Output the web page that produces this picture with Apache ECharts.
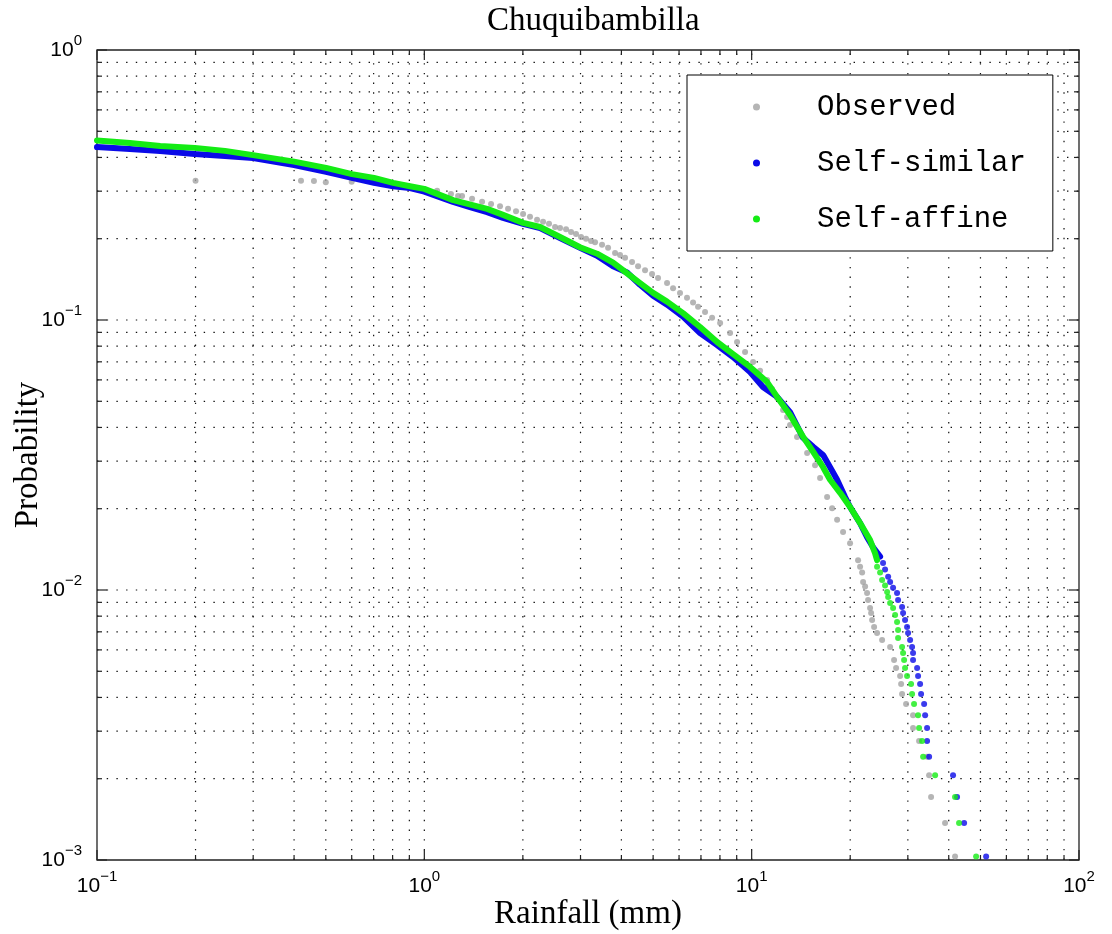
<!DOCTYPE html>
<html><head><meta charset="utf-8">
<script src="https://cdn.jsdelivr.net/npm/echarts@6/dist/echarts.min.js"></script>
<style>html,body{margin:0;padding:0;background:#fff}#c{width:1112px;height:934px}</style>
</head><body><div id="c"></div>
<script>
const titleText = 'Chuquibambilla';
const xAxisName = 'Rainfall (mm)';
const yAxisName = 'Probability';
const seriesNames = ['Observed', 'Self-similar', 'Self-affine'];
const seriesColors = ['#a2a2a2', '#0a0ae8', '#14ec14'];

const xTickValues = [0.1, 1, 10, 100];
const xTickExps = ['\u22121', '0', '1', '2'];
const yTickValues = [0.001, 0.01, 0.1, 1];
const yTickExps = ['\u22123', '\u22122', '\u22121', '0'];
const xMinorTicks = [0.2,0.3,0.4,0.5,0.6,0.7,0.8,0.9, 2,3,4,5,6,7,8,9, 20,30,40,50,60,70,80,90];
const yMinorTicks = [0.002,0.003,0.004,0.005,0.006,0.007,0.008,0.009, 0.02,0.03,0.04,0.05,0.06,0.07,0.08,0.09, 0.2,0.3,0.4,0.5,0.6,0.7,0.8,0.9];

// Observed (rainfall mm, exceedance probability)
const observed = [
[0.2,0.328],[0.42,0.328],[0.46,0.327],[0.5,0.324],[0.6,0.325],[0.7,0.324],[0.8,0.316],
[1.094,0.301],[1.206,0.293],[1.268,0.288],[1.304,0.288],[1.399,0.281],[1.501,0.274],[1.599,0.269],[1.703,0.264],[1.802,0.258],[1.906,0.253],[2.003,0.247],[2.103,0.241],[2.21,0.235],[2.305,0.231],[2.404,0.227],[2.508,0.221],[2.598,0.219],[2.71,0.217],[2.807,0.212],[2.907,0.208],[3.011,0.203],[3.119,0.2],[3.231,0.196],[3.323,0.194],[3.491,0.19],[3.642,0.185],[3.825,0.177],[3.962,0.174],[4.104,0.17],[4.311,0.164],[4.497,0.158],[4.724,0.153],[4.962,0.148],[5.176,0.143],[5.514,0.137],[5.753,0.131],[6.041,0.126],[6.346,0.121],[6.622,0.116],[6.858,0.112],[7.204,0.107],[7.57,0.102],[8.01,0.0975],[8.59,0.0895],[9.024,0.0829],[9.546,0.0761],[10.1,0.0699],[10.61,0.0648],[11.15,0.06],[11.54,0.0555],[11.96,0.0514],[12.47,0.0464],[12.83,0.0437],[13.1,0.0408],[13.76,0.0369],[14.77,0.0322],[15.62,0.029],[16.18,0.026],[17.0,0.0221],[17.61,0.0201],[18.24,0.0182],[19.02,0.0164],[19.98,0.0149],
[21.14,0.0129],[21.44,0.0122],[21.75,0.0116],[21.9,0.0107],[22.21,0.0103],[22.52,0.00975],[22.68,0.00918],[23.0,0.00858],[23.17,0.00822],[23.33,0.00774],[23.66,0.00729],[24.16,0.00693],[25.03,0.00653],[26.48,0.00615],
[27.23,0.0055],[27.62,0.00514],[28.41,0.0048],[28.61,0.00449],[28.81,0.00412],[29.63,0.00378],[31.12,0.00344],[31.12,0.00308],[32.47,0.00276],[34.35,0.00241],[34.84,0.00206],[35.33,0.00171],[38.98,0.00137],[41.81,0.00103]
];

// Self-similar: continuous (dense) part and separated tail points
const selfSimilarDense = [
[0.1,0.437],[0.126,0.43],[0.156,0.423],[0.199,0.412],[0.246,0.405],[0.3,0.398],[0.4,0.375],[0.501,0.354],[0.601,0.336],[0.702,0.322],[0.803,0.313],[0.904,0.308],[1.0,0.299],[1.224,0.274],[1.379,0.262],[1.555,0.251],[1.74,0.239],[2.003,0.227],[2.257,0.219],[2.598,0.201],[2.99,0.185],[3.37,0.173],[3.772,0.158],[4.162,0.15],[4.56,0.135],[4.998,0.123],[5.514,0.114],[6.17,0.103],[6.956,0.0895],[7.842,0.0808],[8.774,0.0729],[9.888,0.0642],[10.83,0.0565],[11.96,0.0519],[13.1,0.0456],[14.36,0.0366],[15.41,0.0339],[16.53,0.0316],[17.36,0.0285],[18.24,0.0256],[19.29,0.0221],[19.98,0.0203],[21.44,0.0177],[22.52,0.0157],[23.49,0.0144],[24.68,0.0133]
];
const selfSimilarTail = [
[25.2,0.0126],[25.56,0.0119],[26.12,0.0112],[26.48,0.0107],[27.04,0.0102],[27.81,0.00975],[28.01,0.00918],[28.81,0.00865],[29.01,0.00822],[29.42,0.00774],[29.84,0.00729],[30.05,0.00693],[30.48,0.00653],[30.91,0.00615],[31.12,0.00584],[31.12,0.0055],[32.02,0.00514],[32.24,0.0048],[32.7,0.00449],[32.93,0.00412],[33.64,0.00378],[33.88,0.00344],[34.35,0.00308],[34.35,0.00276],[34.84,0.00241],[41.23,0.00206],[42.41,0.00171],[44.57,0.00137],[52.03,0.00103]
];

// Self-affine
const selfAffineDense = [
[0.1,0.462],[0.126,0.452],[0.156,0.441],[0.199,0.434],[0.246,0.423],[0.3,0.408],[0.4,0.386],[0.501,0.366],[0.601,0.347],[0.702,0.336],[0.803,0.322],[0.904,0.313],[1.0,0.306],[1.224,0.278],[1.555,0.258],[1.74,0.245],[2.003,0.229],[2.257,0.221],[2.598,0.203],[2.99,0.186],[3.37,0.176],[3.772,0.163],[4.162,0.149],[4.56,0.137],[4.998,0.126],[5.514,0.117],[6.17,0.106],[6.956,0.0942],[7.842,0.0829],[8.774,0.0748],[9.888,0.067],[11.15,0.0589],[11.96,0.0519],[13.1,0.0445],[14.36,0.0369],[15.41,0.0325],[16.53,0.0285],[17.36,0.0256],[18.63,0.0229],[19.98,0.0203],[21.44,0.0177],[23.0,0.0153],[23.82,0.0137],[24.16,0.0129]
];
const selfAffineTail = [
[24.16,0.0122],[24.68,0.0116],[25.03,0.0109],[25.56,0.0104],[25.93,0.00983],[26.12,0.00942],[26.48,0.00895],[27.04,0.00858],[27.43,0.00808],[27.81,0.00761],[28.01,0.00711],[28.01,0.00664],[28.81,0.00615],[29.01,0.00584],[29.22,0.0055],[29.42,0.00514],[29.84,0.0048],[30.69,0.00449],[30.91,0.00412],[31.34,0.00378],[32.24,0.00344],[32.47,0.00308],[33.16,0.00276],[33.4,0.00241],[36.34,0.00206],[41.81,0.00171],[43.01,0.00137],[48.49,0.00103]
];

const X_MIN = xTickValues[0], X_MAX = xTickValues[xTickValues.length - 1];
const Y_MIN = yTickValues[0], Y_MAX = yTickValues[yTickValues.length - 1];

function supLabel(exps, vals) {
  return function (v) {
    let best = 0, bd = Infinity;
    for (let i = 0; i < vals.length; i++) {
      const d = Math.abs(Math.log10(v) - Math.log10(vals[i]));
      if (d < bd) { bd = d; best = i; }
    }
    return '{b|10}{s|' + exps[best] + '}';
  };
}
const richLabel = {
  b: { fontFamily: 'Liberation Sans', fontSize: 21, color: '#000', lineHeight: 21 },
  s: { fontFamily: 'Liberation Sans', fontSize: 15, color: '#000', lineHeight: 15, padding: [0, 0, 19, 0] }
};

const gridStroke = { stroke: '#111', lineWidth: 1.2, lineDash: [1.4, 8.3] };
const tickStroke = { stroke: '#222', lineWidth: 1.2 };

function renderXGrid(params, api) {
  const v = api.value(0), major = api.value(2);
  const b = api.coord([v, Y_MIN]), t = api.coord([v, Y_MAX]);
  const len = major ? 10 : 5;
  const ch = [];
  if (v > X_MIN && v < X_MAX) ch.push({ type: 'line', shape: { x1: b[0], y1: b[1], x2: t[0], y2: t[1] }, style: gridStroke });
  ch.push({ type: 'line', shape: { x1: b[0], y1: b[1], x2: b[0], y2: b[1] - len }, style: tickStroke });
  ch.push({ type: 'line', shape: { x1: t[0], y1: t[1], x2: t[0], y2: t[1] + len }, style: tickStroke });
  return { type: 'group', children: ch };
}
function renderYGrid(params, api) {
  const v = api.value(1), major = api.value(2);
  const l = api.coord([X_MIN, v]), r = api.coord([X_MAX, v]);
  const len = major ? 10 : 5;
  const ch = [];
  if (v > Y_MIN && v < Y_MAX) ch.push({ type: 'line', shape: { x1: l[0], y1: l[1], x2: r[0], y2: r[1] }, style: gridStroke });
  ch.push({ type: 'line', shape: { x1: l[0], y1: l[1], x2: l[0] + len, y2: l[1] }, style: tickStroke });
  ch.push({ type: 'line', shape: { x1: r[0], y1: r[1], x2: r[0] - len, y2: r[1] }, style: tickStroke });
  return { type: 'group', children: ch };
}
const xGridData = xTickValues.map(v => [v, 0.01, 1]).concat(xMinorTicks.map(v => [v, 0.01, 0]));
const yGridData = yTickValues.map(v => [1, v, 1]).concat(yMinorTicks.map(v => [1, v, 0]));

const chart = echarts.init(document.getElementById('c'), null, { renderer: 'canvas' });
chart.setOption({
  animation: false,
  backgroundColor: '#fff',
  title: {
    text: titleText, left: 482, top: 0,
    textStyle: { fontFamily: 'Liberation Serif', fontSize: 33, fontWeight: 'normal', color: '#000' }
  },
  grid: { left: 97, top: 50, right: 33, bottom: 74, containLabel: false, outerBoundsMode: 'none',
    show: true, borderColor: '#222', borderWidth: 1.3, backgroundColor: 'transparent' },
  legend: {
    left: 687, top: 75, orient: 'vertical', selectedMode: false,
    padding: [17, 27, 17, 66], itemGap: 26, itemWidth: 7, itemHeight: 7,
    borderColor: '#000', borderWidth: 1, backgroundColor: '#fff',
    textStyle: { fontFamily: 'Liberation Mono', fontSize: 29, color: '#000', lineHeight: 30, padding: [0, 0, 0, 52] },
    data: seriesNames.map(n => ({ name: n, icon: 'circle' }))
  },
  xAxis: {
    type: 'log', logBase: 10, min: X_MIN, max: X_MAX,
    name: xAxisName, nameLocation: 'middle', nameGap: 38, nameMoveOverlap: false,
    nameTextStyle: { fontFamily: 'Liberation Serif', fontSize: 33, color: '#000' },
    axisLine: { show: false }, axisTick: { show: false }, splitLine: { show: false },
    axisLabel: { margin: 16, formatter: supLabel(xTickExps, xTickValues), rich: richLabel }
  },
  yAxis: {
    type: 'log', logBase: 10, min: Y_MIN, max: Y_MAX,
    name: yAxisName, nameLocation: 'middle', nameGap: 52, nameRotate: 90, nameMoveOverlap: false,
    nameTextStyle: { fontFamily: 'Liberation Serif', fontSize: 33, color: '#000' },
    axisLine: { show: false }, axisTick: { show: false }, splitLine: { show: false },
    axisLabel: { margin: 15, formatter: supLabel(yTickExps, yTickValues), rich: richLabel }
  },
  series: [
    { type: 'custom', silent: true, z: 1, renderItem: renderXGrid, data: xGridData, encode: { x: 0, y: 1 }, clip: false },
    { type: 'custom', silent: true, z: 1, renderItem: renderYGrid, data: yGridData, encode: { x: 0, y: 1 }, clip: false },
    { name: seriesNames[0], type: 'scatter', z: 3, color: seriesColors[0], symbol: 'circle', symbolSize: 6, data: observed },
    { name: seriesNames[1], type: 'line', z: 4, color: seriesColors[1], symbol: 'none', showSymbol: false,
      lineStyle: { width: 6, cap: 'round', join: 'round' }, data: selfSimilarDense },
    { name: seriesNames[1], type: 'scatter', z: 4, color: seriesColors[1], symbol: 'circle', symbolSize: 6, data: selfSimilarTail },
    { name: seriesNames[2], type: 'line', z: 5, color: seriesColors[2], symbol: 'none', showSymbol: false,
      lineStyle: { width: 6, cap: 'round', join: 'round' }, data: selfAffineDense },
    { name: seriesNames[2], type: 'scatter', z: 5, color: seriesColors[2], symbol: 'circle', symbolSize: 6, data: selfAffineTail }
  ]
});
</script>
</body></html>
